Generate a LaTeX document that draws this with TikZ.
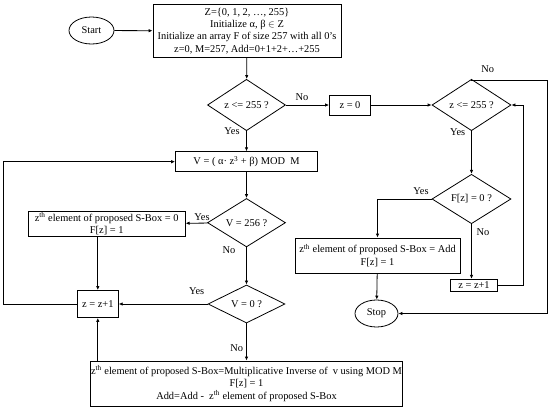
\documentclass[tikz,border=0pt]{standalone}
\usepackage{fontspec}
\setmainfont{Liberation Serif}
\usetikzlibrary{shapes.geometric,arrows.meta}

\begin{document}
\begin{tikzpicture}[x=1pt, y=-1pt, line width=0.8pt, line join=miter,
  font=\fontsize{10.4}{12.3}\selectfont,
  box/.style={draw, rectangle, inner sep=0pt, align=center},
  decision/.style={draw, diamond, inner sep=0pt},
  term/.style={draw, ellipse, inner sep=0pt},
  flow/.style={-{Latex[length=4pt,width=3.5pt]}},
  lbl/.style={inner sep=0pt}]

  %% ==== terminals ====
  \node[term, minimum width=45, minimum height=27] (start) at (91.5,30.5) {Start};
  \node[term, minimum width=43, minimum height=27] (stop) at (376.5,313.5) {Stop};

  %% ==== process boxes ====
  \node[box, minimum width=188, minimum height=53] (init) at (247,31)
    {Z=\{0, 1, 2, …, 255\}\\ Initialize α, β $\in$ Z\\
     Initialize an array F of size 257 with all 0's\\ z=0, M=257, Add=0+1+2+…+255};
  \node[box, minimum width=41, minimum height=20] (zero) at (350,105) {z = 0};
  \node[box, minimum width=142, minimum height=20] (vcalc) at (246.5,161.7)
    {V = ( α·~z\textsuperscript{3} + β) MOD~~M};
  \node[box, minimum width=157, minimum height=24.5] (sboxzero) at (106.7,224)
    {z\textsuperscript{th} element of proposed S-Box = 0\\ F[z] = 1};
  \node[box, minimum width=41, minimum height=27] (incleft) at (97.8,304) {z = z+1};
  \node[box, minimum width=47.5, minimum height=12.5] (incright) at (474,285.5) {z = z+1};
  \node[box, minimum width=165, minimum height=35] (sboxadd) at (377.5,255.5)
    {z\textsuperscript{th} element of proposed S-Box = Add\\ F[z] = 1};
  \node[box, minimum width=312, minimum height=45] (inverse) at (246.5,383.5)
    {z\textsuperscript{th} element of proposed S-Box=Multiplicative Inverse of~ v using MOD M\\
     F[z] = 1\\ Add=Add -~ z\textsuperscript{th} element of proposed S-Box};

  %% ==== decisions ====
  \node[decision, minimum width=78, minimum height=32] (testa) at (246.5,105) {z <= 255 ?};
  \node[decision, minimum width=79, minimum height=32] (testb) at (471.5,105) {z <= 255 ?};
  \node[decision, minimum width=79, minimum height=45] (testf) at (471.5,199) {F[z] = 0 ?};
  \node[decision, minimum width=78, minimum height=27] (testv) at (246.5,222.7) {V = 256 ?};
  \node[decision, minimum width=77, minimum height=25] (testz) at (246.5,304) {V = 0 ?};

  %% ==== labels ====
  \node[lbl] (noa) at (302,97) {No};
  \node[lbl] (nob) at (487.7,69) {No};
  \node[lbl] (yesa) at (232,130.7) {Yes};
  \node[lbl] (yesb) at (457.7,132) {Yes};
  \node[lbl] (yesf) at (421,190.7) {Yes};
  \node[lbl] (nof) at (483,231.7) {No};
  \node[lbl] (yesv) at (202,217) {Yes};
  \node[lbl] (nov) at (229,250) {No};
  \node[lbl] (yesz) at (196.7,290.7) {Yes};
  \node[lbl] (noz) at (236.7,348.3) {No};

  %% ==== corner points of the loops ====
  \coordinate (looptop) at (471.5,80.7);
  \coordinate (loopfar) at (547,80.7);
  \coordinate (loopbot) at (547,313.5);
  \coordinate (loopin) at (523.5,285.5);
  \coordinate (loopleft) at (3.5,304);

  %% ==== connectors ====
  \draw[flow] (start) -- (init);
  \draw[flow] (init) -- (testa);
  \draw[flow] (testa) -- (zero);
  \draw[flow] (zero) -- (testb);
  \draw[flow] (testb.north) -- (looptop) -- (loopfar) -- (loopbot) -- (stop.east);
  \draw[flow] (testb) -- (testf);
  \draw[flow] (testf.west) -| (sboxadd.north);
  \draw[flow] (sboxadd) -- (stop);
  \draw[flow] (testf) -- (incright.north -| testf);
  \draw[flow] (incright.east) -- (loopin) |- (testb.east);

  \draw[flow] (testa) -- (vcalc);
  \draw[flow] (vcalc) -- (testv);
  \draw[flow] (testv) -- (sboxzero);
  \draw[flow] (sboxzero.south -| incleft) -- (incleft);
  \draw[flow] (testv) -- (testz);
  \draw[flow] (testz) -- (incleft);
  \draw[flow] (testz) -- (inverse);
  \draw[flow] (inverse.north -| incleft) -- (incleft);
  \draw[flow] (incleft.west) -- (loopleft) |- (vcalc.west);

  \pgfresetboundingbox
  \path[use as bounding box] (0,0) rectangle (550,410);
\end{tikzpicture}
\end{document}
